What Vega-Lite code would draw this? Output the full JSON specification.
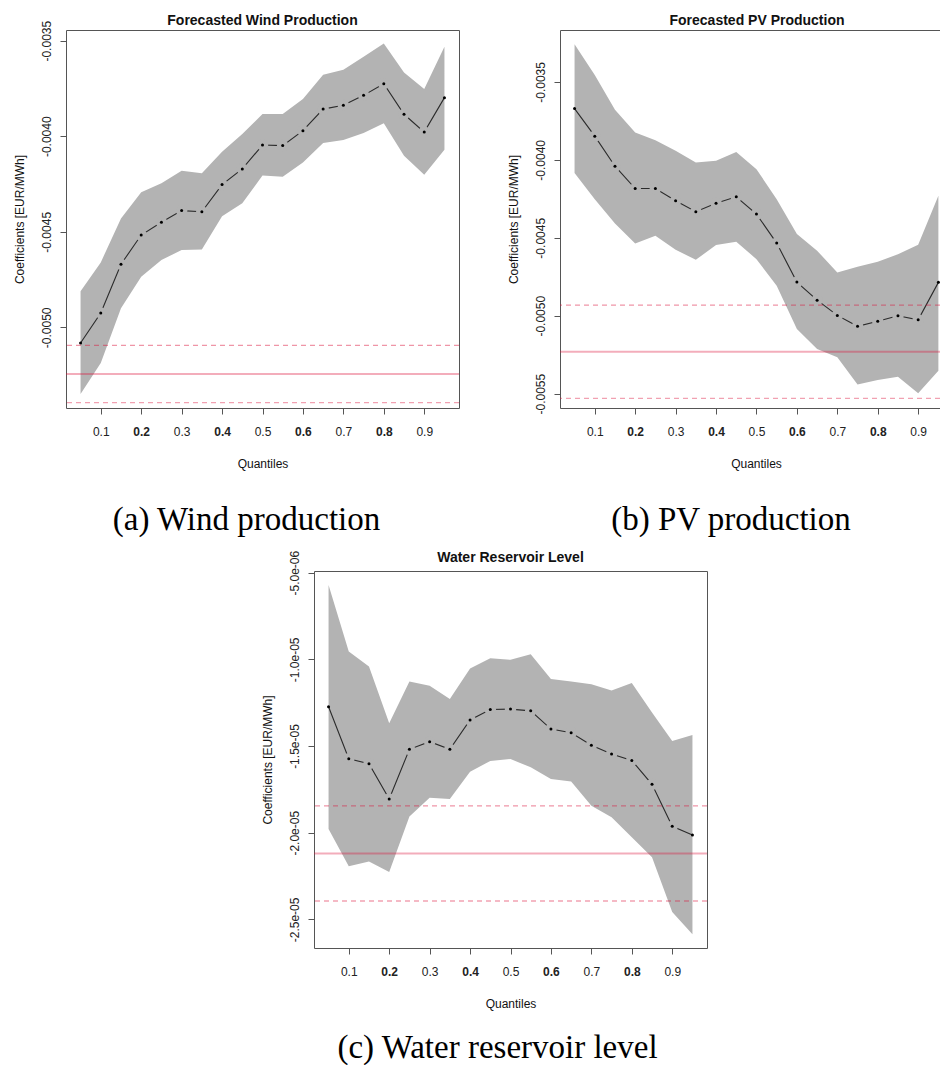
{
  "$schema": "https://vega.github.io/schema/vega-lite/v6.json",
  "padding": {"left": 12, "top": 13, "right": 0, "bottom": 0},
  "background": "white",
  "config": {
    "view": {"stroke": "#555", "strokeWidth": 1},
    "axis": {
      "domain": false, "grid": false, "tickColor": "#555", "tickSize": 6,
      "labelFont": "Liberation Sans", "labelFontSize": 12, "labelColor": "#222",
      "titleFont": "Liberation Sans", "titleFontSize": 12, "titleFontWeight": "normal", "titleColor": "#111",
      "labelOverlap": false
    },
    "axisX": {"labelPadding": 12, "titlePadding": 21},
    "axisY": {"labelPadding": 7, "titlePadding": 14},
    "title": {"font": "Liberation Sans", "fontSize": 14, "fontWeight": "bold", "color": "#111"}
  },
  "datasets": {
    "wind": [
      {"q": 0.05, "coef": -0.005082, "lo": -0.005349, "hi": -0.004811},
      {"q": 0.10, "coef": -0.004925, "lo": -0.005186, "hi": -0.004660},
      {"q": 0.15, "coef": -0.004670, "lo": -0.004900, "hi": -0.004430},
      {"q": 0.20, "coef": -0.004517, "lo": -0.004735, "hi": -0.004293},
      {"q": 0.25, "coef": -0.004450, "lo": -0.004648, "hi": -0.004246},
      {"q": 0.30, "coef": -0.004389, "lo": -0.004595, "hi": -0.004180},
      {"q": 0.35, "coef": -0.004395, "lo": -0.004593, "hi": -0.004194},
      {"q": 0.40, "coef": -0.004253, "lo": -0.004419, "hi": -0.004081},
      {"q": 0.45, "coef": -0.004171, "lo": -0.004351, "hi": -0.003988},
      {"q": 0.50, "coef": -0.004046, "lo": -0.004206, "hi": -0.003884},
      {"q": 0.55, "coef": -0.004049, "lo": -0.004212, "hi": -0.003884},
      {"q": 0.60, "coef": -0.003971, "lo": -0.004137, "hi": -0.003805},
      {"q": 0.65, "coef": -0.003858, "lo": -0.004035, "hi": -0.003678},
      {"q": 0.70, "coef": -0.003838, "lo": -0.004020, "hi": -0.003652},
      {"q": 0.75, "coef": -0.003786, "lo": -0.003983, "hi": -0.003584},
      {"q": 0.80, "coef": -0.003725, "lo": -0.003932, "hi": -0.003514},
      {"q": 0.85, "coef": -0.003885, "lo": -0.004102, "hi": -0.003666},
      {"q": 0.90, "coef": -0.003978, "lo": -0.004201, "hi": -0.003753},
      {"q": 0.95, "coef": -0.003798, "lo": -0.004070, "hi": -0.003531}
    ],
    "windRef": [
      {"kind": "upper", "value": -0.005094},
      {"kind": "mean", "value": -0.005244},
      {"kind": "lower", "value": -0.005394}
    ],
    "pv": [
      {"q": 0.05, "coef": -0.003671, "lo": -0.004085, "hi": -0.003259},
      {"q": 0.10, "coef": -0.003848, "lo": -0.004252, "hi": -0.003455},
      {"q": 0.15, "coef": -0.004041, "lo": -0.004408, "hi": -0.003679},
      {"q": 0.20, "coef": -0.004184, "lo": -0.004536, "hi": -0.003825},
      {"q": 0.25, "coef": -0.004184, "lo": -0.004487, "hi": -0.003874},
      {"q": 0.30, "coef": -0.004263, "lo": -0.004577, "hi": -0.003942},
      {"q": 0.35, "coef": -0.004333, "lo": -0.004641, "hi": -0.004017},
      {"q": 0.40, "coef": -0.004278, "lo": -0.004547, "hi": -0.004006},
      {"q": 0.45, "coef": -0.004237, "lo": -0.004526, "hi": -0.003949},
      {"q": 0.50, "coef": -0.004348, "lo": -0.004637, "hi": -0.004060},
      {"q": 0.55, "coef": -0.004534, "lo": -0.004808, "hi": -0.004252},
      {"q": 0.60, "coef": -0.004784, "lo": -0.005085, "hi": -0.004476},
      {"q": 0.65, "coef": -0.004900, "lo": -0.005214, "hi": -0.004583},
      {"q": 0.70, "coef": -0.004998, "lo": -0.005267, "hi": -0.004722},
      {"q": 0.75, "coef": -0.005068, "lo": -0.005442, "hi": -0.004686},
      {"q": 0.80, "coef": -0.005036, "lo": -0.005412, "hi": -0.004654},
      {"q": 0.85, "coef": -0.005000, "lo": -0.005391, "hi": -0.004605},
      {"q": 0.90, "coef": -0.005026, "lo": -0.005498, "hi": -0.004545},
      {"q": 0.95, "coef": -0.004786, "lo": -0.005353, "hi": -0.004231}
    ],
    "pvRef": [
      {"kind": "upper", "value": -0.004932},
      {"kind": "mean", "value": -0.005231},
      {"kind": "lower", "value": -0.005530}
    ],
    "water": [
      {"q": 0.05, "coef": -1.2735e-5, "lo": -1.978e-5, "hi": -0.571e-5},
      {"q": 0.10, "coef": -1.573e-5, "lo": -2.193e-5, "hi": -0.955e-5},
      {"q": 0.15, "coef": -1.602e-5, "lo": -2.166e-5, "hi": -1.041e-5},
      {"q": 0.20, "coef": -1.805e-5, "lo": -2.227e-5, "hi": -1.369e-5},
      {"q": 0.25, "coef": -1.519e-5, "lo": -1.907e-5, "hi": -1.128e-5},
      {"q": 0.30, "coef": -1.475e-5, "lo": -1.799e-5, "hi": -1.153e-5},
      {"q": 0.35, "coef": -1.519e-5, "lo": -1.805e-5, "hi": -1.229e-5},
      {"q": 0.40, "coef": -1.350e-5, "lo": -1.648e-5, "hi": -1.053e-5},
      {"q": 0.45, "coef": -1.289e-5, "lo": -1.586e-5, "hi": -0.993e-5},
      {"q": 0.50, "coef": -1.287e-5, "lo": -1.575e-5, "hi": -1.003e-5},
      {"q": 0.55, "coef": -1.297e-5, "lo": -1.623e-5, "hi": -0.970e-5},
      {"q": 0.60, "coef": -1.402e-5, "lo": -1.690e-5, "hi": -1.114e-5},
      {"q": 0.65, "coef": -1.423e-5, "lo": -1.705e-5, "hi": -1.128e-5},
      {"q": 0.70, "coef": -1.496e-5, "lo": -1.844e-5, "hi": -1.143e-5},
      {"q": 0.75, "coef": -1.546e-5, "lo": -1.911e-5, "hi": -1.179e-5},
      {"q": 0.80, "coef": -1.583e-5, "lo": -2.026e-5, "hi": -1.137e-5},
      {"q": 0.85, "coef": -1.721e-5, "lo": -2.141e-5, "hi": -1.306e-5},
      {"q": 0.90, "coef": -1.963e-5, "lo": -2.458e-5, "hi": -1.471e-5},
      {"q": 0.95, "coef": -2.013e-5, "lo": -2.586e-5, "hi": -1.437e-5}
    ],
    "waterRef": [
      {"kind": "upper", "value": -1.8455e-5},
      {"kind": "mean", "value": -2.12e-5},
      {"kind": "lower", "value": -2.394e-5}
    ]
  },
  "vconcat": [
    {
      "hconcat": [
        {
          "title": {"text": "(a) Wind production", "orient": "bottom", "anchor": "middle", "frame": "bounds", "font": "Liberation Serif", "fontSize": 33, "fontWeight": "normal", "color": "#000", "baseline": "top", "offset": 34, "dx": 10},
          "vconcat": [
            {
              "width": 393, "height": 378,
              "title": {"text": "Forecasted Wind Production", "frame": "group", "anchor": "middle", "offset": -8},
              "layer": [
                {
                  "data": {"name": "wind"},
                  "mark": {"type": "area", "color": "#b3b3b3", "opacity": 1},
                  "encoding": {
                    "x": {"field": "q", "type": "quantitative", "title": "Quantiles", "scale": {"domain": [0.014, 0.986], "nice": false, "zero": false},
                      "axis": {"values": [0.1, 0.2, 0.3, 0.4, 0.5, 0.6, 0.7, 0.8, 0.9], "format": ".1f", "labelFontWeight": {"condition": {"test": "round(datum.value*10)%2==0", "value": "bold"}, "value": "normal"}}},
                    "y": {"field": "lo", "type": "quantitative", "title": "Coefficients [EUR/MWh]", "scale": {"domain": [-0.005422, -0.003444], "nice": false, "zero": false},
                      "axis": {"values": [-0.005, -0.0045, -0.004, -0.0035], "labelExpr": "replace(format(datum.value, '.4f'), regexp('\u2212', 'g'), '-')", "labelAngle": -90, "labelAlign": "center", "labelBaseline": "bottom"}},
                    "y2": {"field": "hi"}
                  }
                },
                {
                  "data": {"name": "wind"},
                  "mark": {"type": "line", "color": "#2b2b2b", "strokeWidth": 1.1},
                  "encoding": {"x": {"field": "q", "type": "quantitative", "title": "Quantiles"}, "y": {"field": "coef", "type": "quantitative", "title": "Coefficients [EUR/MWh]"}}
                },
                {
                  "data": {"name": "wind"},
                  "transform": [{"filter": "datum.q > 0.06 && datum.q < 0.94"}],
                  "mark": {"type": "point", "shape": "circle", "filled": true, "color": "#b3b3b3", "opacity": 1, "size": 133, "strokeWidth": 0},
                  "encoding": {"x": {"field": "q", "type": "quantitative", "title": "Quantiles"}, "y": {"field": "coef", "type": "quantitative", "title": "Coefficients [EUR/MWh]"}}
                },
                {
                  "data": {"name": "wind"},
                  "mark": {"type": "point", "shape": "circle", "filled": true, "color": "#000", "opacity": 1, "size": 9},
                  "encoding": {"x": {"field": "q", "type": "quantitative", "title": "Quantiles"}, "y": {"field": "coef", "type": "quantitative", "title": "Coefficients [EUR/MWh]"}}
                },
                {
                  "data": {"name": "windRef"},
                  "transform": [{"filter": "datum.kind == 'mean'"}],
                  "mark": {"type": "rule", "color": "#dc143c", "opacity": 0.35, "strokeWidth": 2},
                  "encoding": {"y": {"field": "value", "type": "quantitative", "title": "Coefficients [EUR/MWh]"}}
                },
                {
                  "data": {"name": "windRef"},
                  "transform": [{"filter": "datum.kind != 'mean'"}],
                  "mark": {"type": "rule", "color": "#dc143c", "strokeWidth": 1.3, "strokeDash": [5, 4]},
                  "encoding": {"y": {"field": "value", "type": "quantitative", "title": "Coefficients [EUR/MWh]"},
                    "opacity": {"field": "kind", "type": "nominal", "scale": {"domain": ["lower", "upper"], "range": [0.4, 0.45]}, "legend": null}}
                }
              ]
            }
          ]
        },
        {
          "title": {"text": "(b) PV production", "orient": "bottom", "anchor": "middle", "frame": "bounds", "font": "Liberation Serif", "fontSize": 33, "fontWeight": "normal", "color": "#000", "baseline": "top", "offset": 34, "dx": 7},
          "vconcat": [
            {
              "width": 380, "height": 378,
              "title": {"text": "Forecasted PV Production", "frame": "group", "anchor": "middle", "offset": 2, "dx": 7},
              "layer": [
                {
                  "data": {"name": "pv"},
                  "mark": {"type": "area", "color": "#b3b3b3", "opacity": 1},
                  "encoding": {
                    "x": {"field": "q", "type": "quantitative", "title": "Quantiles", "scale": {"domain": [0.014, 0.954], "nice": false, "zero": false},
                      "axis": {"values": [0.1, 0.2, 0.3, 0.4, 0.5, 0.6, 0.7, 0.8, 0.9], "format": ".1f", "titleX": 196, "labelFontWeight": {"condition": {"test": "round(datum.value*10)%2==0", "value": "bold"}, "value": "normal"}}},
                    "y": {"field": "lo", "type": "quantitative", "title": "Coefficients [EUR/MWh]", "scale": {"domain": [-0.005592, -0.003167], "nice": false, "zero": false},
                      "axis": {"values": [-0.0055, -0.005, -0.0045, -0.004, -0.0035], "labelExpr": "replace(format(datum.value, '.4f'), regexp('\u2212', 'g'), '-')", "labelAngle": -90, "labelAlign": "center", "labelBaseline": "bottom"}},
                    "y2": {"field": "hi"}
                  }
                },
                {
                  "data": {"name": "pv"},
                  "mark": {"type": "line", "color": "#2b2b2b", "strokeWidth": 1.1},
                  "encoding": {"x": {"field": "q", "type": "quantitative", "title": "Quantiles"}, "y": {"field": "coef", "type": "quantitative", "title": "Coefficients [EUR/MWh]"}}
                },
                {
                  "data": {"name": "pv"},
                  "transform": [{"filter": "datum.q > 0.06 && datum.q < 0.94"}],
                  "mark": {"type": "point", "shape": "circle", "filled": true, "color": "#b3b3b3", "opacity": 1, "size": 133, "strokeWidth": 0},
                  "encoding": {"x": {"field": "q", "type": "quantitative", "title": "Quantiles"}, "y": {"field": "coef", "type": "quantitative", "title": "Coefficients [EUR/MWh]"}}
                },
                {
                  "data": {"name": "pv"},
                  "mark": {"type": "point", "shape": "circle", "filled": true, "color": "#000", "opacity": 1, "size": 9},
                  "encoding": {"x": {"field": "q", "type": "quantitative", "title": "Quantiles"}, "y": {"field": "coef", "type": "quantitative", "title": "Coefficients [EUR/MWh]"}}
                },
                {
                  "data": {"name": "pvRef"},
                  "transform": [{"filter": "datum.kind == 'mean'"}],
                  "mark": {"type": "rule", "color": "#dc143c", "opacity": 0.35, "strokeWidth": 2},
                  "encoding": {"y": {"field": "value", "type": "quantitative", "title": "Coefficients [EUR/MWh]"}}
                },
                {
                  "data": {"name": "pvRef"},
                  "transform": [{"filter": "datum.kind != 'mean'"}],
                  "mark": {"type": "rule", "color": "#dc143c", "strokeWidth": 1.3, "strokeDash": [5, 4]},
                  "encoding": {"y": {"field": "value", "type": "quantitative", "title": "Coefficients [EUR/MWh]"},
                    "opacity": {"field": "kind", "type": "nominal", "scale": {"domain": ["lower", "upper"], "range": [0.35, 0.5]}, "legend": null}}
                }
              ]
            }
          ]
        }
      ],
      "spacing": 45
    },
    {
      "hconcat": [
        {
          "width": 194, "height": 10,
          "view": {"stroke": null},
          "mark": {"type": "rule", "opacity": 0},
          "encoding": {}
        },
        {
          "title": {"text": "(c) Water reservoir level", "orient": "bottom", "anchor": "middle", "frame": "bounds", "font": "Liberation Serif", "fontSize": 33, "fontWeight": "normal", "color": "#000", "baseline": "top", "offset": 22, "dx": 13},
          "vconcat": [
            {
              "width": 393, "height": 377,
              "title": {"text": "Water Reservoir Level", "frame": "group", "anchor": "middle", "offset": -15},
              "layer": [
                {
                  "data": {"name": "water"},
                  "mark": {"type": "area", "color": "#b3b3b3", "opacity": 1},
                  "encoding": {
                    "x": {"field": "q", "type": "quantitative", "title": "Quantiles", "scale": {"domain": [0.014, 0.986], "nice": false, "zero": false},
                      "axis": {"values": [0.1, 0.2, 0.3, 0.4, 0.5, 0.6, 0.7, 0.8, 0.9], "format": ".1f", "labelFontWeight": {"condition": {"test": "round(datum.value*10)%2==0", "value": "bold"}, "value": "normal"}}},
                    "y": {"field": "lo", "type": "quantitative", "title": "Coefficients [EUR/MWh]", "scale": {"domain": [-2.665e-5, -0.4904e-5], "nice": false, "zero": false},
                      "axis": {"values": [-2.5e-5, -2e-5, -1.5e-5, -1e-5, -5e-6], "labelExpr": "replace(replace(format(datum.value, '.1e'), regexp('\u2212', 'g'), '-'), regexp('e-([0-9])$'), 'e-0$1')", "labelAngle": -90, "labelAlign": "center", "labelBaseline": "bottom"}},
                    "y2": {"field": "hi"}
                  }
                },
                {
                  "data": {"name": "water"},
                  "mark": {"type": "line", "color": "#2b2b2b", "strokeWidth": 1.1},
                  "encoding": {"x": {"field": "q", "type": "quantitative", "title": "Quantiles"}, "y": {"field": "coef", "type": "quantitative", "title": "Coefficients [EUR/MWh]"}}
                },
                {
                  "data": {"name": "water"},
                  "transform": [{"filter": "datum.q > 0.06 && datum.q < 0.94"}],
                  "mark": {"type": "point", "shape": "circle", "filled": true, "color": "#b3b3b3", "opacity": 1, "size": 133, "strokeWidth": 0},
                  "encoding": {"x": {"field": "q", "type": "quantitative", "title": "Quantiles"}, "y": {"field": "coef", "type": "quantitative", "title": "Coefficients [EUR/MWh]"}}
                },
                {
                  "data": {"name": "water"},
                  "mark": {"type": "point", "shape": "circle", "filled": true, "color": "#000", "opacity": 1, "size": 9},
                  "encoding": {"x": {"field": "q", "type": "quantitative", "title": "Quantiles"}, "y": {"field": "coef", "type": "quantitative", "title": "Coefficients [EUR/MWh]"}}
                },
                {
                  "data": {"name": "waterRef"},
                  "transform": [{"filter": "datum.kind == 'mean'"}],
                  "mark": {"type": "rule", "color": "#dc143c", "opacity": 0.35, "strokeWidth": 2},
                  "encoding": {"y": {"field": "value", "type": "quantitative", "title": "Coefficients [EUR/MWh]"}}
                },
                {
                  "data": {"name": "waterRef"},
                  "transform": [{"filter": "datum.kind != 'mean'"}],
                  "mark": {"type": "rule", "color": "#dc143c", "strokeWidth": 1.3, "strokeDash": [5, 4]},
                  "encoding": {"y": {"field": "value", "type": "quantitative", "title": "Coefficients [EUR/MWh]"},
                    "opacity": {"field": "kind", "type": "nominal", "scale": {"domain": ["lower", "upper"], "range": [0.38, 0.65]}, "legend": null}}
                }
              ]
            }
          ]
        }
      ],
      "spacing": 0
    }
  ],
  "spacing": 12
}
